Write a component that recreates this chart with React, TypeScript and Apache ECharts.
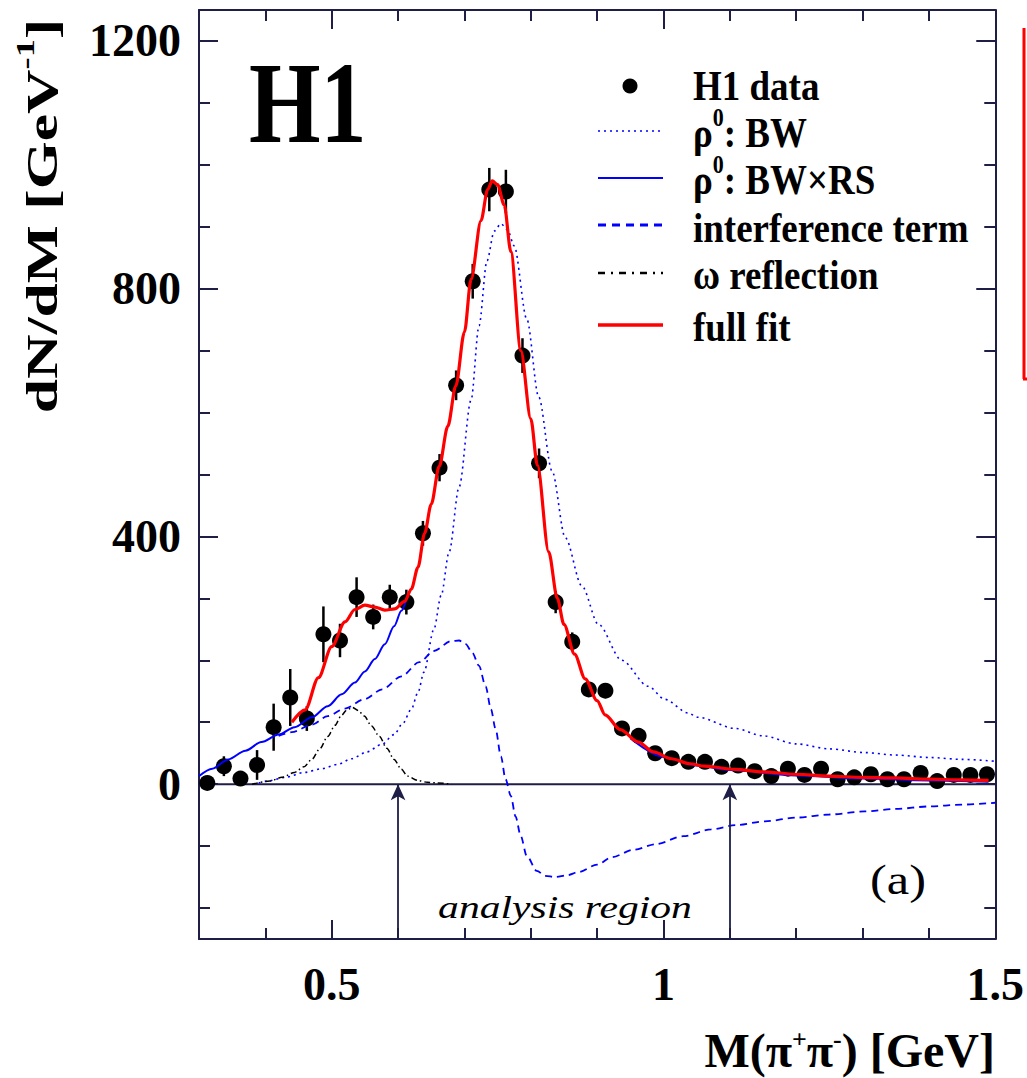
import React, { useEffect, useRef } from 'react';
import * as echarts from 'echarts';

// ---------- data ----------
const massBins = [0.3125, 0.3375, 0.3625, 0.3875, 0.4125, 0.4375, 0.4625, 0.4875, 0.5125, 0.5375, 0.5625, 0.5875, 0.6125, 0.6375, 0.6625, 0.6875, 0.7125, 0.7375, 0.7625, 0.7875, 0.8125, 0.8375, 0.8625, 0.8875, 0.9125, 0.9375, 0.9625, 0.9875, 1.0125, 1.0375, 1.0625, 1.0875, 1.1125, 1.1375, 1.1625, 1.1875, 1.2125, 1.2375, 1.2625, 1.2875, 1.3125, 1.3375, 1.3625, 1.3875, 1.4125, 1.4375, 1.4625, 1.4875];
const counts = [2, 29, 9, 31, 92, 140, 106, 242, 232, 302, 270, 302, 294, 405, 511, 644, 812, 960, 957, 692, 518, 294, 230, 153, 151, 90, 78, 50, 42, 36, 36, 28, 30, 21, 13, 25, 15, 25, 8, 11, 16, 8, 8, 18, 5, 15, 15, 16];
const errors = [8, 16, 10, 24, 38, 46, 20, 45, 27, 32, 20, 20, 20, 20, 22, 24, 28, 35, 35, 28, 24, 18, 15, 12, 12, 10, 10, 9, 8, 8, 8, 8, 8, 8, 7, 7, 7, 7, 7, 7, 6, 6, 6, 6, 6, 6, 6, 6];

const fullFit = [[0.44, 100], [0.46, 120], [0.48, 172], [0.5, 222], [0.52, 262], [0.535, 282], [0.55, 289], [0.565, 286], [0.58, 281], [0.595, 283], [0.61, 295], [0.62, 315], [0.63, 350], [0.64, 405], [0.65, 452], [0.662, 513], [0.675, 578], [0.687, 643], [0.7, 730], [0.71, 815], [0.725, 910], [0.735, 960], [0.742, 974], [0.75, 968], [0.76, 935], [0.77, 860], [0.785, 700], [0.8, 590], [0.81, 515], [0.827, 375], [0.84, 300], [0.85, 258], [0.866, 210], [0.882, 170], [0.9, 135], [0.912, 112], [0.935, 88], [0.962, 68], [0.985, 52], [1.012, 41], [1.04, 33], [1.062, 29], [1.108, 24], [1.15, 20], [1.2, 16], [1.25, 13], [1.3, 11], [1.35, 10], [1.4, 8], [1.45, 7], [1.49, 6]];
const bwRs = [[0.3, 13], [0.32, 25], [0.344, 40], [0.37, 54], [0.394, 68], [0.42, 80], [0.444, 92], [0.47, 108], [0.494, 126], [0.515, 145], [0.535, 164], [0.55, 182], [0.565, 202], [0.58, 226], [0.594, 255], [0.605, 280], [0.614, 304]];
const bwRsTail = [[0.95, 74], [1.0, 44], [1.05, 30], [1.1, 23], [1.2, 14], [1.3, 9], [1.4, 6], [1.49, 4]];
const bw = [[0.39, 2], [0.403, 5], [0.43, 11], [0.459, 19], [0.485, 25], [0.509, 32], [0.53, 41], [0.553, 52], [0.575, 64], [0.594, 80], [0.607, 98], [0.62, 121], [0.63, 148], [0.639, 181], [0.654, 250], [0.665, 305], [0.677, 375], [0.692, 480], [0.71, 620], [0.722, 740], [0.734, 845], [0.745, 893], [0.755, 905], [0.765, 895], [0.775, 869], [0.794, 751], [0.812, 625], [0.832, 506], [0.852, 398], [0.877, 320], [0.902, 258], [0.937, 200], [0.977, 158], [1.002, 137], [1.037, 115], [1.052, 108], [1.108, 90], [1.15, 78], [1.2, 65], [1.25, 57], [1.303, 51], [1.35, 47], [1.402, 43], [1.45, 40], [1.5, 37]];
const interference = [[0.42, 78], [0.44, 84], [0.47, 96], [0.494, 110], [0.52, 122], [0.549, 137], [0.576, 153], [0.605, 174], [0.632, 197], [0.654, 215], [0.68, 231], [0.692, 232], [0.702, 226], [0.712, 212], [0.722, 191], [0.732, 158], [0.74, 121], [0.747, 89], [0.755, 45], [0.762, 8], [0.77, -19], [0.777, -52], [0.785, -84], [0.794, -116], [0.809, -140], [0.822, -148], [0.837, -150], [0.855, -147], [0.872, -142], [0.9, -130], [0.922, -118], [0.955, -106], [0.988, -97], [1.03, -84], [1.072, -73], [1.11, -66], [1.153, -60], [1.2, -54], [1.25, -49], [1.303, -44], [1.35, -40], [1.4, -36], [1.45, -33], [1.5, -30]];
const omegaReflection = [[0.38, 0], [0.407, 5], [0.425, 11], [0.444, 19], [0.458, 28], [0.47, 40], [0.482, 57], [0.494, 77], [0.505, 95], [0.514, 110], [0.522, 119], [0.531, 124], [0.54, 119], [0.549, 110], [0.56, 94], [0.572, 77], [0.583, 58], [0.594, 40], [0.605, 24], [0.614, 13], [0.63, 6], [0.644, 3], [0.66, 2], [0.68, 0]];

const analysisRegion = [0.6, 1.1];
const xRange = [0.3, 1.5];
const yRange = [-250, 1250];
const xMajorTicks = [0.5, 1, 1.5];
const xMinorTicks = [0.4, 0.6, 0.7, 0.8, 0.9, 1.1, 1.2, 1.3, 1.4];
const yMajorTicks = [0, 400, 800, 1200];
const yMinorTicks = [-200, -100, 100, 200, 300, 500, 600, 700, 900, 1000, 1100];

// ---------- styles ----------
const FRAME = '#1e1e46';
const BLUE = '#0000ff';
const RED = '#ff0000';
const SERIF = '"Liberation Serif", "Times New Roman", serif';

function xAxisDef(position: 'top' | 'bottom', ticks: number[], len: number, labels: boolean, line: boolean) {
  return {
    type: 'value', min: xRange[0], max: xRange[1], position,
    axisLine: { show: line, onZero: false, lineStyle: { color: FRAME, width: 2 } },
    axisTick: { show: true, inside: true, length: len, customValues: ticks, lineStyle: { color: FRAME, width: 2 } },
    axisLabel: labels
      ? { show: true, customValues: xMajorTicks, formatter: (v: number) => String(v), fontFamily: SERIF, fontWeight: 'bold', fontSize: 46, color: '#000', margin: 22 }
      : { show: false },
    splitLine: { show: false },
  };
}
function yAxisDef(position: 'left' | 'right', ticks: number[], len: number, labels: boolean, line: boolean) {
  return {
    type: 'value', min: yRange[0], max: yRange[1], position,
    axisLine: { show: line, onZero: false, lineStyle: { color: FRAME, width: 2 } },
    axisTick: { show: true, inside: true, length: len, customValues: ticks, lineStyle: { color: FRAME, width: 2 } },
    axisLabel: labels
      ? { show: true, customValues: yMajorTicks, formatter: (v: number) => String(v), fontFamily: SERIF, fontWeight: 'bold', fontSize: 46, color: '#000', margin: 18 }
      : { show: false },
    splitLine: { show: false },
  };
}

const legendRich = {
  a: { fontFamily: SERIF, fontWeight: 'bold', fontSize: 37, fill: '#000', lineHeight: 50 },
  s: { fontFamily: SERIF, fontWeight: 'bold', fontSize: 22, fill: '#000', lineHeight: 22, verticalAlign: 'top' },
};

function legendText(y: number, text: string) {
  return {
    type: 'text', x: 693, y, scaleY: 1.12, z: 20,
    style: { text, rich: legendRich, align: 'left', verticalAlign: 'middle', textAlign: 'left', textVerticalAlign: 'middle' },
  };
}
function legendLine(y: number, color: string, width: number, dash: number[] | null) {
  return {
    type: 'line', z: 20,
    shape: { x1: 598, y1: y, x2: 663, y2: y },
    style: { stroke: color, lineWidth: width, lineDash: dash || undefined },
  };
}

export default function App() {
  const ref = useRef<HTMLDivElement>(null);
  useEffect(() => {
    if (!ref.current) return;
    const chart = echarts.init(ref.current, null, { renderer: 'svg' });
    const errData = massBins.map((m, i) => [m, counts[i], errors[i]]);
    const option: any = {
      animation: false,
      backgroundColor: '#fff',
      grid: { left: 199, right: 31, top: 10, bottom: 139 },
      xAxis: [
        xAxisDef('bottom', xMajorTicks, 19, true, true),
        xAxisDef('bottom', xMinorTicks, 11, false, false),
        xAxisDef('top', xMajorTicks, 19, false, true),
        xAxisDef('top', xMinorTicks, 11, false, false),
      ],
      yAxis: [
        yAxisDef('left', yMajorTicks, 19, true, true),
        yAxisDef('left', yMinorTicks, 11, false, false),
        yAxisDef('right', yMajorTicks, 19, false, true),
        yAxisDef('right', yMinorTicks, 11, false, false),
      ],
      series: [
        {
          type: 'line', name: 'zero', data: [[xRange[0], 0], [xRange[1], 0]], symbol: 'none', silent: true,
          lineStyle: { color: FRAME, width: 2 }, z: 2,
          markLine: {
            silent: true, symbol: ['none', 'arrow'], symbolSize: [11, 16], label: { show: false },
            lineStyle: { color: FRAME, width: 1.8, type: 'solid' },
            data: analysisRegion.map((m) => [{ coord: [m, yRange[0]] }, { coord: [m, 0] }]),
          },
        },
        {
          type: 'custom', name: 'H1 data errors', data: errData, z: 3,
          renderItem: (params: any, api: any) => {
            const x = api.value(0), y = api.value(1), e = api.value(2);
            const p1 = api.coord([x, y + e]);
            const p2 = api.coord([x, y - e]);
            return { type: 'line', shape: { x1: p1[0], y1: p1[1], x2: p2[0], y2: p2[1] }, style: { stroke: '#000', lineWidth: 2.5 } };
          },
        },
        {
          type: 'scatter', name: 'H1 data', data: massBins.map((m, i) => [m, counts[i]]),
          symbol: 'circle', symbolSize: 16, itemStyle: { color: '#000', opacity: 1 }, z: 3,
        },
        {
          type: 'line', name: 'ρ0: BW', data: bw, symbol: 'none', smooth: 0.3, smoothMonotone: 'x', z: 4,
          lineStyle: { color: BLUE, width: 1.6, type: [2, 4] },
        },
        {
          type: 'line', name: 'interference term', data: interference, symbol: 'none', smooth: 0.3, smoothMonotone: 'x', z: 4,
          lineStyle: { color: BLUE, width: 1.8, type: [7, 5] },
        },
        {
          type: 'line', name: 'ω reflection', data: omegaReflection, symbol: 'none', smooth: 0.3, smoothMonotone: 'x', z: 4,
          lineStyle: { color: '#000', width: 1.5, type: [6, 3, 1.5, 3] },
        },
        {
          type: 'line', name: 'ρ0: BW×RS', data: bwRs, symbol: 'none', smooth: 0.3, smoothMonotone: 'x', z: 4,
          lineStyle: { color: BLUE, width: 2 },
        },
        {
          type: 'line', name: 'ρ0: BW×RS', data: bwRsTail, symbol: 'none', smooth: 0.3, smoothMonotone: 'x', z: 4,
          lineStyle: { color: BLUE, width: 2 },
        },
        {
          type: 'line', name: 'full fit', data: fullFit, symbol: 'none', smooth: 0.3, smoothMonotone: 'x', z: 5,
          lineStyle: { color: RED, width: 3.2 },
        },
      ],
      graphic: [
        {
          type: 'text', x: 249, y: 103, scaleY: 1.26, z: 20,
          style: { text: 'H1', font: `bold 92px ${SERIF}`, fill: '#000', align: 'left', verticalAlign: 'middle', textAlign: 'left', textVerticalAlign: 'middle' },
        },
        { type: 'circle', z: 20, shape: { cx: 630, cy: 86, r: 7.5 }, style: { fill: '#000' } },
        legendText(86, '{a|H1 data}'),
        legendLine(131, BLUE, 1.6, [2, 4]),
        legendText(133, '{a|ρ}{s|0}{a|: BW}'),
        legendLine(178, BLUE, 2, null),
        legendText(180, '{a|ρ}{s|0}{a|: BW×RS}'),
        legendLine(225, BLUE, 3, [8, 6]),
        legendText(228, '{a|interference term}'),
        legendLine(273, '#000', 2.5, [7, 6, 2, 6]),
        legendText(275, '{a|ω reflection}'),
        legendLine(325, RED, 3.5, null),
        legendText(327, '{a|full fit}'),
        {
          type: 'text', x: 565, y: 907, scaleX: 1.3, z: 20,
          style: { text: 'analysis region', font: `italic 32px ${SERIF}`, fill: '#000', align: 'center', verticalAlign: 'middle', textAlign: 'center', textVerticalAlign: 'middle' },
        },
        {
          type: 'text', x: 898, y: 880, scaleX: 1.2, z: 20,
          style: { text: '(a)', font: `42px ${SERIF}`, fill: '#000', align: 'center', verticalAlign: 'middle', textAlign: 'center', textVerticalAlign: 'middle' },
        },
        {
          type: 'text', x: 995, y: 1050, z: 20,
          style: {
            text: '{a|M(π}{s|+}{a|π}{s|-}{a|) [GeV]}',
            rich: {
              a: { fontFamily: SERIF, fontWeight: 'bold', fontSize: 48, fill: '#000', lineHeight: 48 },
              s: { fontFamily: SERIF, fontWeight: 'bold', fontSize: 26, fill: '#000', lineHeight: 26, verticalAlign: 'top' },
            },
            align: 'right', verticalAlign: 'middle', textAlign: 'right', textVerticalAlign: 'middle',
          },
        },
        {
          type: 'text', x: 42, y: 216, rotation: Math.PI / 2, scaleX: 1.4, z: 20,
          style: {
            text: '{a|dN/dM [GeV}{s|-1}{a|]}',
            rich: {
              a: { fontFamily: SERIF, fontWeight: 'bold', fontSize: 44, fill: '#000', lineHeight: 60 },
              s: { fontFamily: SERIF, fontWeight: 'bold', fontSize: 26, fill: '#000', lineHeight: 26, verticalAlign: 'top' },
            },
            align: 'center', verticalAlign: 'middle', textAlign: 'center', textVerticalAlign: 'middle',
          },
        },
        { type: 'line', z: 20, shape: { x1: 1024, y1: 28, x2: 1024, y2: 379 }, style: { stroke: RED, lineWidth: 3 } },
        { type: 'line', z: 20, shape: { x1: 1023, y1: 379, x2: 1027, y2: 379 }, style: { stroke: RED, lineWidth: 3 } },
      ],
    };
    chart.setOption(option);
    return () => chart.dispose();
  }, []);
  return <div ref={ref} style={{ position: 'absolute', left: 0, top: 0, width: 1027, height: 1078 }} />;
}
